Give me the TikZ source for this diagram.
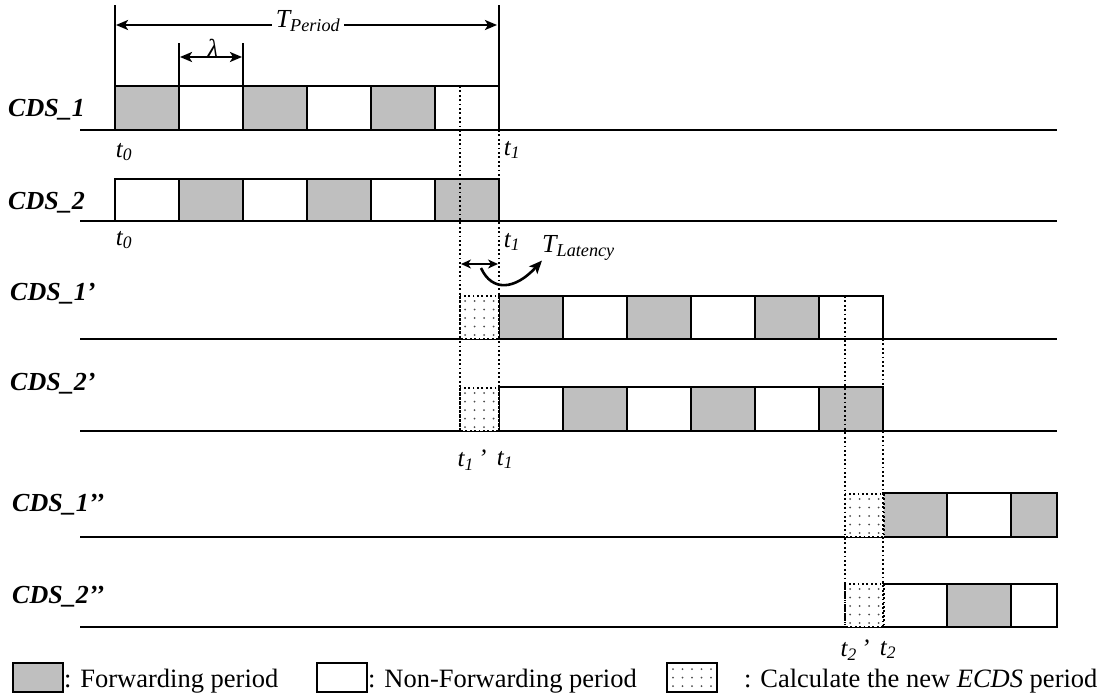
\documentclass[tikz,border=0pt]{standalone}
\usepackage{fontspec}
\setmainfont{Liberation Serif}
\usetikzlibrary{arrows.meta}
\tikzset{
  fwd/.style={draw=black, line width=2.5pt, fill=gray!50},
  nfw/.style={draw=black, line width=2.5pt, fill=white},
  baseln/.style={draw=black, line width=2.5pt},
  dotln/.style={draw=black, line width=2pt, dash pattern=on 1.8pt off 2.6pt},
  tick/.style={draw=black, line width=2.4pt},
  dim/.style={draw=black, line width=2.4pt, {Stealth[length=12pt,width=10pt,inset=3pt]}-{Stealth[length=12pt,width=10pt,inset=3pt]}},
  rowlab/.style={inner sep=0pt, anchor=west, font=\fontsize{26}{30}\selectfont\bfseries\itshape},
  tlab/.style={inner sep=0pt, font=\fontsize{25}{28}\selectfont\itshape},
  leg/.style={inner sep=0pt, anchor=base west, font=\fontsize{26.5}{30}\selectfont},
  calcbox/.pic={
    \fill[white] (0,0) rectangle (39,43);
    \foreach \a in {0,...,3} \foreach \b in {0,...,4}
      \fill[black!70] ({5+9.5*\a},{5+8.5*\b}) circle (1);
    \draw[dotln] (0,0) rectangle (39,43);
  }
}
\begin{document}
\begin{tikzpicture}[x=1pt,y=-1pt]
\useasboundingbox (0,0) rectangle (1100,699);

% ---------------- Row 1: CDS_1
\draw[baseln] (80,130) -- (1057,130);
\foreach \i/\f in {0/fwd,1/nfw,2/fwd,3/nfw,4/fwd,5/nfw}
  \draw[\f] ({115+64*\i},86) rectangle ({179+64*\i},130);
\node[rowlab] (r1) at (8,110) {CDS\_1};
\node[tlab] (t0a) at (124,152) {t\textsubscript{0}};
\node[tlab] (t1a) at (512,150) {t\textsubscript{1}};

% ---------------- Row 2: CDS_2
\draw[baseln] (80,221) -- (1057,221);
\foreach \i/\f in {0/nfw,1/fwd,2/nfw,3/fwd,4/nfw,5/fwd}
  \draw[\f] ({115+64*\i},179) rectangle ({179+64*\i},221);
\node[rowlab] (r2) at (8,203) {CDS\_2};
\node[tlab] (t0b) at (124,240) {t\textsubscript{0}};
\node[tlab] (t1b) at (512,242) {t\textsubscript{1}};

% ---------------- Row 3: CDS_1'
\draw[baseln] (80,339) -- (1057,339);
\foreach \i/\f in {0/fwd,1/nfw,2/fwd,3/nfw,4/fwd,5/nfw}
  \draw[\f] ({499+64*\i},296) rectangle ({563+64*\i},339);
\pic at (460,296) {calcbox};
\node[rowlab] (r3) at (10,294) {CDS\_1’};

% ---------------- Row 4: CDS_2'
\draw[baseln] (80,431) -- (1057,431);
\foreach \i/\f in {0/nfw,1/fwd,2/nfw,3/fwd,4/nfw,5/fwd}
  \draw[\f] ({499+64*\i},387) rectangle ({563+64*\i},431);
\pic at (460,388) {calcbox};
\node[rowlab] (r4) at (10,384) {CDS\_2’};
\node[tlab] (t1p) at (472,460) {t\textsubscript{1}\,’};
\node[tlab] (t1c) at (505,460) {t\textsubscript{1}};

% ---------------- Row 5: CDS_1''
\draw[baseln] (80,537) -- (883,537);
\draw[fwd] (883,493) rectangle (947,537);
\draw[nfw] (947,493) rectangle (1011,537);
\draw[fwd] (1011,493) rectangle (1057,537);
\pic at (845,494) {calcbox};
\node[rowlab] (r5) at (12,505) {CDS\_1’’};

% ---------------- Row 6: CDS_2''
\draw[baseln] (80,627) -- (883,627);
\draw[nfw] (883,584) rectangle (947,627);
\draw[fwd] (947,584) rectangle (1011,627);
\draw[nfw] (1011,584) rectangle (1057,627);
\pic at (845,584) {calcbox};
\node[rowlab] (r6) at (12,597) {CDS\_2’’};
\node[tlab] (t2p) at (855,650) {t\textsubscript{2}\,’};
\node[tlab] (t2c) at (888,650) {t\textsubscript{2}};

% ---------------- dotted guide lines
\coordinate (g1top) at (460,86);
\coordinate (g1bot) at (460,431);
\coordinate (g2top) at (499,130);
\coordinate (g2bot) at (499,431);
\coordinate (g3top) at (845,296);
\coordinate (g3bot) at (845,627);
\coordinate (g4top) at (883,339);
\coordinate (g4bot) at (883,627);
\draw[dotln] (g1top) -- (g1bot);
\draw[dotln] (g2top) -- (g2bot);
\draw[dotln] (g3top) -- (g3bot);
\draw[dotln] (g4top) -- (g4bot);

% ---------------- T_Period
\coordinate (pa) at (115,5);
\coordinate (pb) at (499,5);
\draw[tick] (pa) -- (115,86);
\draw[tick] (pb) -- (499,86);
\coordinate (pl) at (116,25);
\coordinate (pr) at (497,25);
\draw[dim] (pl) -- (pr);
\node[inner sep=4pt, fill=white, font=\fontsize{26}{28}\selectfont\itshape] (tper) at (308,21) {T\textsubscript{Period}};

% ---------------- lambda
\draw[tick] (179,43) -- (179,86);
\draw[tick] (243,43) -- (243,86);
\coordinate (la) at (180,57);
\coordinate (lb) at (242,57);
\draw[dim] (la) -- (lb);
\node[inner sep=0pt, font=\fontsize{26}{28}\selectfont\itshape] (lam) at (213,48) {λ};

% ---------------- latency
\coordinate (ta) at (461,264);
\coordinate (tb) at (498,264);
\draw[draw=black, line width=2.4pt, {Stealth[length=10pt,width=9pt,inset=3pt]}-{Stealth[length=10pt,width=9pt,inset=3pt]}] (ta) -- (tb);
\node[inner sep=0pt, anchor=west, font=\fontsize{26}{28}\selectfont\itshape] (tlat) at (542,248) {T\textsubscript{Latency}};
\coordinate (cs) at (481,268);
\draw[draw=black, line width=2.6pt, -{Stealth[length=13pt,width=11pt,inset=3pt]}] (cs) .. controls (492,292) and (515,290) .. (tlat.south west);

% ---------------- legend
\draw[fwd] (13,663) rectangle (63,692);
\node[leg] (lg1) at (64,687) {: Forwarding period};
\draw[nfw] (317,663) rectangle (367,692);
\node[leg] (lg2) at (368,687) {: Non-Forwarding period};
\draw[black, line width=2.5pt, fill=white] (667,663) rectangle (717,692);
\foreach \a in {0,...,4} \foreach \b in {0,...,2}
  \fill[black!70] ({673+9.5*\a},{669+8.5*\b}) circle (1);
\node[leg] (lg3) at (744,687) {: Calculate the new \textit{ECDS} period};
\end{tikzpicture}
\end{document}
